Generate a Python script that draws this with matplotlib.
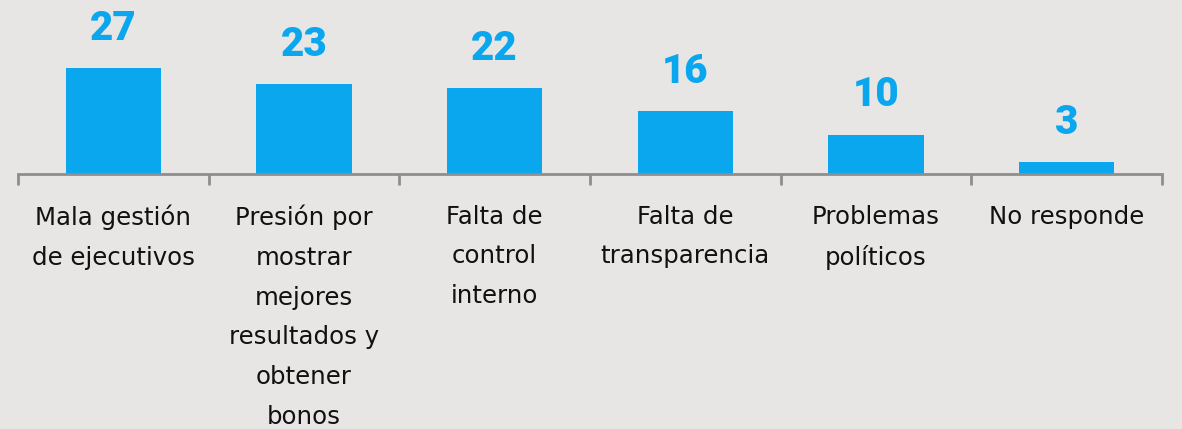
import matplotlib
matplotlib.use("Agg")
import matplotlib.pyplot as plt
import numpy as np

categories = ["Mala gestión\nde ejecutivos",
              "Presión por\nmostrar\nmejores\nresultados y\nobtener\nbonos",
              "Falta de\ncontrol\ninterno",
              "Falta de\ntransparencia",
              "Problemas\npolíticos",
              "No responde"]
values = [27, 23, 22, 16, 10, 3]

BG = "#e8e6e4"
BLUE = "#0aa7ee"
GRAY = "#8e8e8e"

W, H = 1182, 429
fig = plt.figure(figsize=(W/100, H/100), dpi=100, facecolor=BG)
ax = fig.add_axes([18/W, (H-173.5)/H, (1162-18)/W, 173.5/H])
ax.set_facecolor(BG)

x = np.arange(len(values))
ax.bar(x, values, width=0.5, color=BLUE, zorder=2)
ax.set_xlim(-0.5, len(values)-0.5)
ax.set_ylim(0, 173.5/3.9)

for xi, v in zip(x, values):
    ax.annotate(str(v), (xi, v), xytext=(0, 28.5), textcoords="offset points",
                ha="center", va="center", fontsize=29, color=BLUE,
                fontfamily="Roboto", fontweight="black")

for s in ["top", "right", "left"]:
    ax.spines[s].set_visible(False)
ax.spines["bottom"].set_color(GRAY)
ax.spines["bottom"].set_linewidth(2)
ax.set_yticks([])

ax.set_xticks(x)
ax.set_xticklabels([""] * len(x))
ax.tick_params(axis="x", which="major", length=0)
ax.set_xticks(np.arange(-0.5, len(values)), minor=True)
ax.tick_params(axis="x", which="minor", length=8, width=2, color=GRAY)

for xi, lab in zip(x, categories):
    ax.annotate(lab, (xi, 0), xycoords=ax.get_xaxis_transform(),
                xytext=(0, -22.4), textcoords="offset points",
                ha="center", va="top", fontsize=17.6, fontfamily="DejaVu Sans",
                color="#111111", linespacing=1.83, annotation_clip=False)

fig.savefig("out.png", dpi=100, facecolor=BG)
